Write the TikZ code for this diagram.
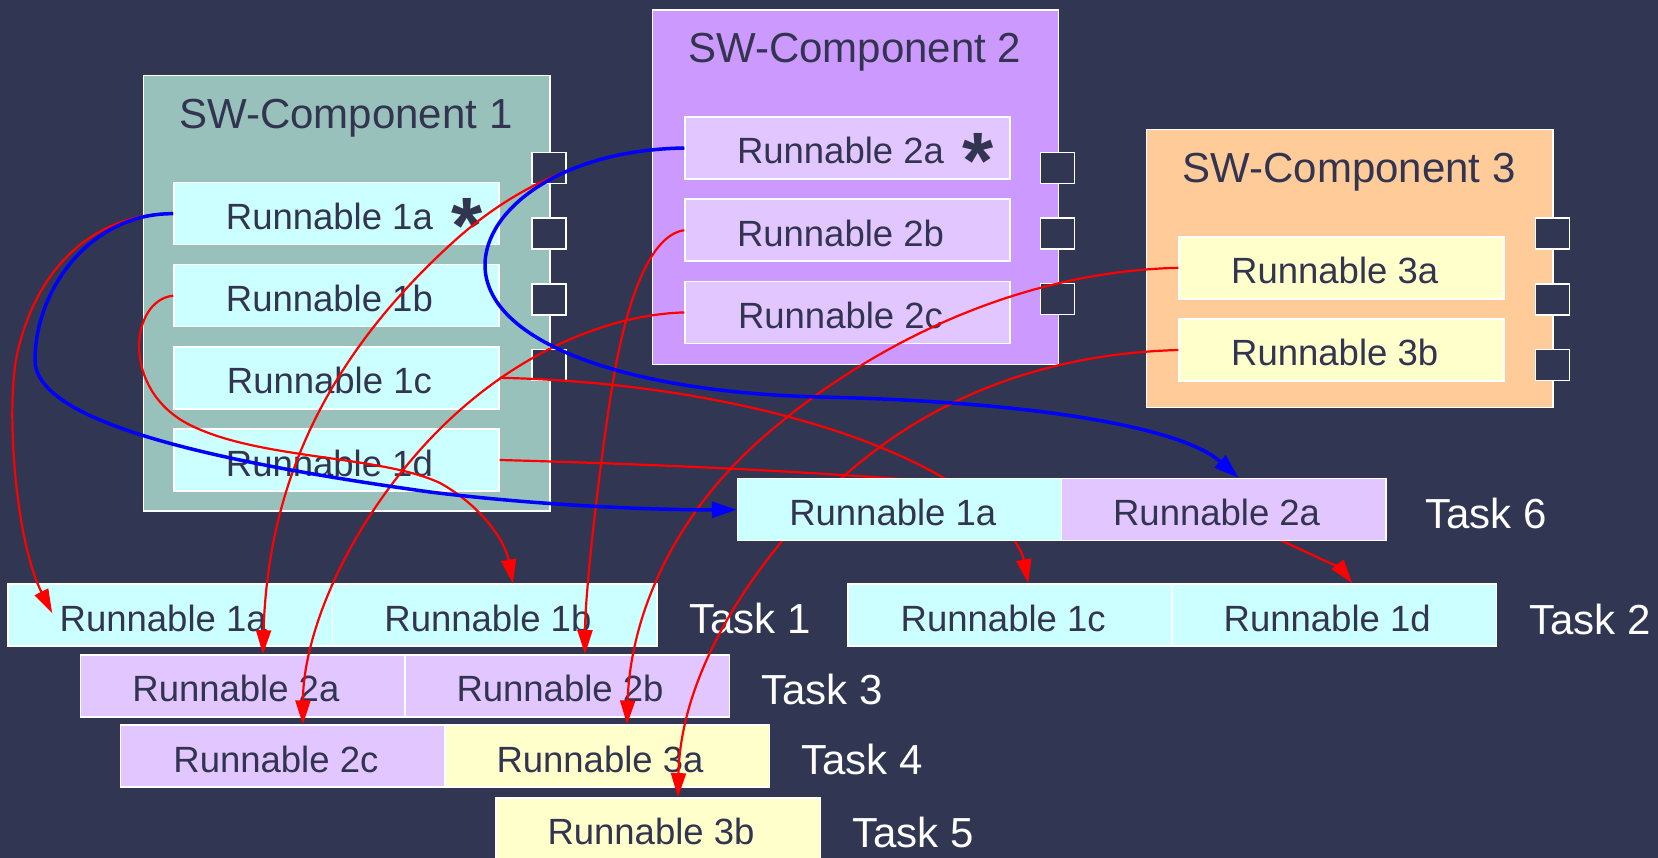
\documentclass[tikz,border=0pt]{standalone}
\usepackage{fontspec}
\setmainfont{Liberation Sans}
\usetikzlibrary{arrows.meta,calc}

\definecolor{bgnavy}{RGB}{49,54,82}
\definecolor{inknavy}{RGB}{50,52,80}
\definecolor{compteal}{RGB}{153,193,187}
\definecolor{runcyan}{RGB}{204,255,255}
\definecolor{complilac}{RGB}{204,153,255}
\definecolor{runlilac}{RGB}{225,198,255}
\definecolor{comppeach}{RGB}{255,204,153}
\definecolor{runcream}{RGB}{255,255,204}
\definecolor{linkred}{RGB}{255,0,0}
\definecolor{linkblue}{RGB}{0,0,255}

\begin{document}
\begin{tikzpicture}[x=1pt,y=-1pt,
  compbox/.style={draw=white,line width=1.5pt,inner sep=0pt,anchor=north west},
  comptitle/.style={anchor=base,inner sep=0pt,text=inknavy,font=\fontsize{42}{46}\selectfont},
  runbox/.style={draw=white,line width=1.5pt,minimum width=325pt,minimum height=62pt,
    inner sep=0pt,text=inknavy,font=\fontsize{36.5}{40}\selectfont,
    text height=32pt,text depth=0pt,execute at end node={\hspace*{14pt}}},
  cellbox/.style={runbox,minimum width=324.5pt},
  portbox/.style={draw=white,line width=1.5pt,fill=bgnavy,minimum width=34pt,
    minimum height=31pt,inner sep=0pt},
  starmark/.style={anchor=north,inner sep=0pt,text=inknavy,
    font=\fontsize{80}{80}\selectfont\bfseries},
  tasklabel/.style={anchor=base west,inner sep=0pt,text=white,
    font=\fontsize{42}{46}\selectfont},
  redlink/.style={draw=linkred,line width=2.2pt,-{Triangle[length=24pt,width=15pt]}},
  bluelink/.style={draw=linkblue,line width=3.5pt,-{Triangle[length=25pt,width=16pt]}}]

\useasboundingbox (0,0) rectangle (1658,858);
\fill[bgnavy] (0,0) rectangle (1658,858);

% ---- SW-Component 1 ----
\node[compbox,fill=compteal,minimum width=406.3pt,minimum height=435pt] (c1) at (142.7,75) {};
\node[comptitle] (c1t) at (345.9,129) {SW-Component 1};
\foreach \py [count=\i] in {167.8,233.4,299.4,365.2}
  \node[portbox] (c1p\i) at (549,\py) {};
\node[runbox,fill=runcyan] (r1a) at (336.4,213.7) {Runnable 1a};
\node[runbox,fill=runcyan] (r1b) at (336.4,295.7) {Runnable 1b};
\node[runbox,fill=runcyan] (r1c) at (336.4,377.8) {Runnable 1c};
\node[runbox,fill=runcyan] (r1d) at (336.4,460.0) {Runnable 1d};
\node[starmark] (s1) at ($(r1a.center)+(131,-15.4)$) {*};

% ---- SW-Component 2 ----
\node[compbox,fill=complilac,minimum width=406pt,minimum height=354.7pt] (c2) at (651.7,9.3) {};
\node[comptitle] (c2t) at (854.7,62.7) {SW-Component 2};
\foreach \py [count=\i] in {167.8,233.4,299.2}
  \node[portbox] (c2p\i) at (1057.7,\py) {};
\node[runbox,fill=runlilac] (r2a) at (847.5,148.0) {Runnable 2a};
\node[runbox,fill=runlilac] (r2b) at (847.5,230.2) {Runnable 2b};
\node[runbox,fill=runlilac] (r2c) at (847.5,312.4) {Runnable 2c};
\node[starmark] (s2) at ($(r2a.center)+(131,-14.7)$) {*};

% ---- SW-Component 3 ----
\node[compbox,fill=comppeach,minimum width=406.6pt,minimum height=277.7pt] (c3) at (1145.7,129) {};
\node[comptitle] (c3t) at (1349,182.7) {SW-Component 3};
\foreach \py [count=\i] in {233.5,299.5,365.2}
  \node[portbox] (c3p\i) at (1552.3,\py) {};
\node[runbox,fill=runcream] (r3a) at (1341.7,267.8) {Runnable 3a};
\node[runbox,fill=runcream] (r3b) at (1341.7,350.0) {Runnable 3b};

% ---- Task rows ----
\node[cellbox,fill=runcyan] (t1a) at (170.2,615.2) {Runnable 1a};
\node[cellbox,fill=runcyan] (t1b) at (494.9,615.2) {Runnable 1b};
\node[tasklabel] (t1l) at (689,633) {Task 1};

\node[cellbox,fill=runcyan] (t2a) at (1010.2,615.0) {Runnable 1c};
\node[cellbox,fill=runcyan] (t2b) at (1334.2,615.0) {Runnable 1d};
\node[tasklabel] (t2l) at (1529,634) {Task 2};

\node[cellbox,fill=runlilac] (t3a) at (242.9,685.9) {Runnable 2a};
\node[cellbox,fill=runlilac] (t3b) at (567.0,685.9) {Runnable 2b};
\node[tasklabel] (t3l) at (761,704) {Task 3};

\node[cellbox,fill=runlilac] (t4a) at (282.9,756.2) {Runnable 2c};
\node[cellbox,fill=runcream] (t4b) at (607.0,756.2) {Runnable 3a};
\node[tasklabel] (t4l) at (801,774) {Task 4};

\node[cellbox,fill=runcream] (t5) at (658.0,828.9) {Runnable 3b};
\node[tasklabel] (t5l) at (852,847) {Task 5};

% ---- Mapping of runnables onto tasks ----
\draw[redlink] (r1a.west) .. controls (100,213) and (40,260) .. (18,350)
  .. controls (5,403) and (15,540) .. ($(t1a.west)+(45,-2)$);
\draw[redlink] (r1b.west) .. controls (130,300) and (120,390) .. (190,425)
  .. controls (260,460) and (380,455) .. (440,483)
  .. controls (480,505) and (505,540) .. ($(t1b.north)+(18,0)$);
\draw[redlink] (r1c.east) .. controls (700,382) and (880,430) .. (970,495)
  .. controls (1005,520) and (1022,550) .. ($(t2a.north)+(18,0)$);
\draw[redlink] (r1d.east) .. controls (800,468) and (1180,490) .. (1280,540)
  .. controls (1320,558) and (1342,570) .. ($(t2b.north)+(18,0)$);
\draw[redlink] (r2a.west) .. controls (600,150) and (520,180) .. (450,245)
  .. controls (330,355) and (268,480) .. ($(t3a.north)+(20,0)$);
\draw[redlink] (r2b.west) .. controls (650,235) and (625,300) .. (610,400)
  .. controls (595,500) and (585,600) .. ($(t3b.north)+(18,0)$);
\draw[redlink] (r2c.west) .. controls (600,315) and (500,360) .. (420,450)
  .. controls (340,540) and (303,640) .. ($(t4a.north)+(20,0)$);
\draw[redlink] (r3a.west) .. controls (1000,272) and (850,360) .. (760,440)
  .. controls (670,520) and (630,620) .. ($(t4b.north)+(20,0)$);
\draw[redlink] (r3b.west) .. controls (1000,355) and (880,430) .. (800,520)
  .. controls (720,610) and (680,700) .. ($(t5.north)+(20,0)$);

% ---- Task 6 row, drawn over the links ----
\node[cellbox,fill=runcyan] (t6a) at (899.8,509.7) {Runnable 1a};
\node[cellbox,fill=runlilac] (t6b) at (1223.6,509.7) {Runnable 2a};
\node[tasklabel] (t6l) at (1425,528.3) {Task 6};

\draw[bluelink] (r1a.west) .. controls (90,213) and (35,290) .. (35,360)
  .. controls (35,420) and (200,460) .. (430,492)
  .. controls (560,508) and (680,510) .. (t6a.west);
\draw[bluelink] (r2a.west) .. controls (560,150) and (485,210) .. (485,265)
  .. controls (485,340) and (620,392) .. (820,397)
  .. controls (1050,402) and (1185,430) .. ($(t6b.north)+(15,0)$);
\end{tikzpicture}
\end{document}
